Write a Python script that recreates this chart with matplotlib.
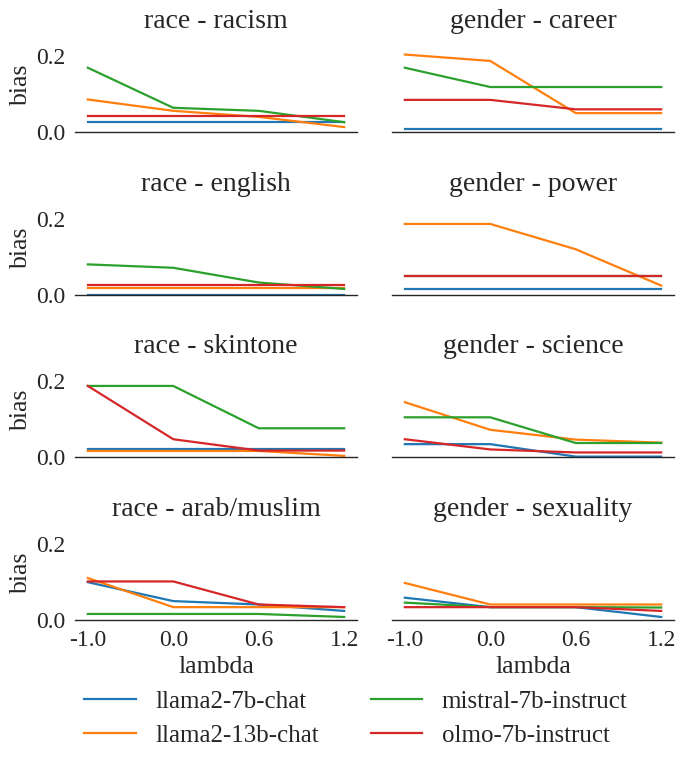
import matplotlib
matplotlib.use('Agg')
import matplotlib.pyplot as plt

plt.rcParams['font.family'] = ['Liberation Serif', 'DejaVu Serif']
plt.rcParams['text.color'] = '.15'
plt.rcParams['axes.labelcolor'] = '.15'
plt.rcParams['xtick.color'] = '.15'
plt.rcParams['ytick.color'] = '.15'

# x categories (equally spaced)
lambdas = ['-1.0', '0.0', '0.6', '1.2']
models = ['llama2-7b-chat', 'llama2-13b-chat', 'mistral-7b-instruct', 'olmo-7b-instruct']
colors = ['#1f77b4', '#ff7f0e', '#2ca02c', '#d62728']

# one row per model, in the order of `models`
race_racism = [
    [0.026, 0.026, 0.026, 0.026],
    [0.086, 0.056, 0.040, 0.013],
    [0.170, 0.064, 0.056, 0.026],
    [0.042, 0.042, 0.042, 0.042],
]
gender_career = [
    [0.008, 0.008, 0.008, 0.008],
    [0.205, 0.188, 0.050, 0.050],
    [0.170, 0.119, 0.119, 0.119],
    [0.085, 0.085, 0.060, 0.060],
]
race_english = [
    [0.000, 0.000, 0.000, 0.000],
    [0.018, 0.018, 0.018, 0.018],
    [0.081, 0.072, 0.033, 0.016],
    [0.026, 0.026, 0.026, 0.026],
]
gender_power = [
    [0.016, 0.016, 0.016, 0.016],
    [0.188, 0.188, 0.121, 0.025],
    [0.050, 0.050, 0.050, 0.050],
    [0.050, 0.050, 0.050, 0.050],
]
race_skintone = [
    [0.020, 0.020, 0.020, 0.020],
    [0.016, 0.016, 0.016, 0.003],
    [0.188, 0.188, 0.076, 0.076],
    [0.188, 0.047, 0.017, 0.017],
]
gender_science = [
    [0.034, 0.034, 0.001, 0.001],
    [0.145, 0.072, 0.046, 0.038],
    [0.105, 0.105, 0.037, 0.037],
    [0.047, 0.020, 0.012, 0.012],
]
race_arab = [
    [0.100, 0.050, 0.041, 0.024],
    [0.111, 0.034, 0.034, 0.034],
    [0.016, 0.016, 0.016, 0.008],
    [0.102, 0.102, 0.041, 0.034],
]
gender_sexuality = [
    [0.059, 0.034, 0.034, 0.008],
    [0.098, 0.041, 0.041, 0.041],
    [0.046, 0.034, 0.034, 0.033],
    [0.034, 0.034, 0.034, 0.024],
]

panels = [
    ('race - racism', race_racism), ('gender - career', gender_career),
    ('race - english', race_english), ('gender - power', gender_power),
    ('race - skintone', race_skintone), ('gender - science', gender_science),
    ('race - arab/muslim', race_arab), ('gender - sexuality', gender_sexuality),
]

W, H = 686, 766
fig = plt.figure(figsize=(W / 100, H / 100), dpi=100)

lefts = [75, 392]
axw = 282
bottoms = [132, 295, 457, 620]   # pixel row of the zero line
ymax = 0.25
axh = 94.5

x = list(range(len(lambdas)))
handles = []
for i, (title, data) in enumerate(panels):
    r, c = divmod(i, 2)
    ax = fig.add_axes([lefts[c] / W, 1 - bottoms[r] / H, axw / W, axh / H])
    for m, (vals, col) in enumerate(zip(data, colors)):
        ln, = ax.plot(x, vals, color=col, lw=1.6, label=models[m])
        if i == 0:
            handles.append(ln)
    ax.set_xlim(-0.15, 3.15)
    ax.set_ylim(0, ymax)
    ax.set_title(title, fontsize=20, pad=7)
    for s in ['top', 'right', 'left']:
        ax.spines[s].set_visible(False)
    ax.spines['bottom'].set_color('.15')
    ax.spines['bottom'].set_linewidth(1.0)
    ax.set_yticks([0.0, 0.2])
    ax.set_xticks(x)
    ax.tick_params(length=0, labelsize=17, pad=7)
    if c == 0:
        ax.set_yticklabels(['0.0', '0.2'])
        ax.set_ylabel('bias', fontsize=18.5, labelpad=3)
    else:
        ax.set_yticklabels([])
    if r == 3:
        ax.set_xticklabels(lambdas)
        ax.set_xlabel('lambda', fontsize=18.5, labelpad=4)
    else:
        ax.set_xticklabels([])

fig.legend(handles=handles, labels=models, loc='upper center', ncol=2,
           bbox_to_anchor=(356 / W, 1 - 673 / H), frameon=False, fontsize=18,
           handlelength=2.05, handletextpad=0.8, columnspacing=2.05,
           labelspacing=0.44, borderpad=0.2)

fig.savefig('out.png', dpi=100)
